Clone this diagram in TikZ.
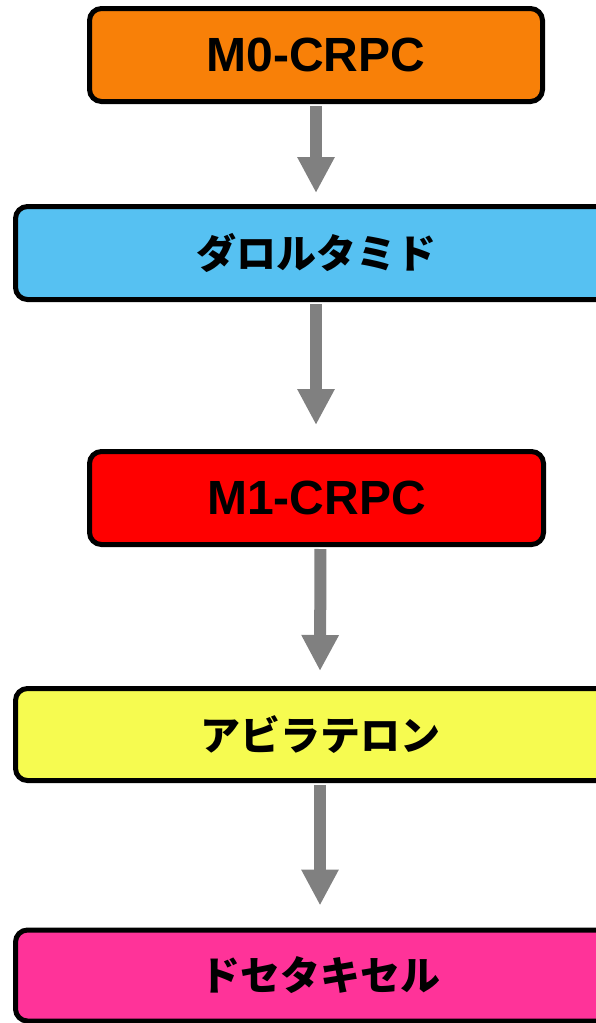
\documentclass[tikz,border=0pt]{standalone}
\usepackage{fontspec}
\setmainfont{Liberation Sans}
\newfontfamily\jpfont{Noto Sans CJK JP}
\usetikzlibrary{arrows.meta}
\definecolor{cOrange}{HTML}{F88008}
\definecolor{cBlue}{HTML}{56C1F2}
\definecolor{cRed}{HTML}{FF0000}
\definecolor{cYellow}{HTML}{F6FB50}
\definecolor{cPink}{HTML}{FF3399}
\definecolor{cGray}{HTML}{808080}
\tikzset{
  boxstyle/.style={draw=black, line width=5pt, rounded corners=12pt, minimum height=93pt, inner sep=0pt, anchor=center},
  latintext/.style={font=\fontsize{48}{48}\selectfont\bfseries},
  jptext/.style={font=\jpfont\fontsize{40}{40}\selectfont\bfseries},
  arr/.style={draw=cGray, line width=12pt, -{Triangle[width=35pt,length=36pt]}, shorten <=2pt}
}
\begin{document}
\begin{tikzpicture}[x=1pt,y=-1pt]
\useasboundingbox (0,0) rectangle (596,1023);
\clip (0,0) rectangle (596,1023);
\node[boxstyle, fill=cOrange, minimum width=453pt, latintext] (b1) at (316,55) {M0-CRPC};
\node[boxstyle, fill=cBlue, minimum width=601pt, jptext] (b2) at (316,253) {ダロルタミド};
\node[boxstyle, fill=cRed, minimum width=454pt, latintext] (b3) at (316.5,498) {M1-CRPC};
\node[boxstyle, fill=cYellow, minimum width=609pt, minimum height=92pt, jptext] (b4) at (320,734.5) {アビラテロン};
\node[boxstyle, fill=cPink, minimum width=609pt, minimum height=91pt, jptext] (b5) at (320,975.5) {ドセタキセル};
\draw[arr] (b1.south) -- ([yshift=11pt]b2.north -| b1.south);
\draw[arr] (b2.south) -- ([yshift=24pt]b3.north -| b2.south);
\draw[arr] ([xshift=4pt]b3.south) -- ([yshift=15pt]b4.north);
\draw[arr] (b4.south) -- ([yshift=22pt]b5.north);
\end{tikzpicture}
\end{document}
